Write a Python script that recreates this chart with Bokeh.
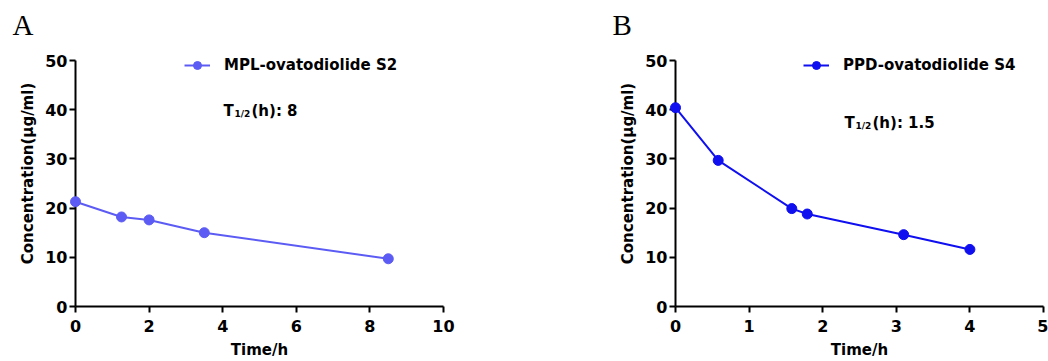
from bokeh.plotting import figure
from bokeh.models import Range1d, FixedTicker, Legend, LegendItem, Label
from bokeh.layouts import row
from bokeh.embed import file_html
from bokeh.resources import INLINE

# ---- data ----
time_a = [0, 1.25, 2.0, 3.5, 8.5]
conc_a = [21.3, 18.2, 17.6, 15.0, 9.7]
time_b = [0, 0.58, 1.58, 1.79, 3.10, 4.0]
conc_b = [40.4, 29.7, 19.9, 18.8, 14.6, 11.6]

series_a = "MPL-ovatodiolide S2"
series_b = "PPD-ovatodiolide S4"
half_a = "(h): 8"
half_b = "(h): 1.5"

xticks_a = [0, 2, 4, 6, 8, 10]
xticks_b = [0, 1, 2, 3, 4, 5]
yticks = [0, 10, 20, 30, 40, 50]

color_a = "#5C5CF4"
color_b = "#0F0FF0"

FONT = "DejaVu Sans"
TOP = 40          # canvas pixel of frame top
AX_TOP = 60       # canvas pixel where y = 50 sits
BOTTOM = 306      # canvas pixel of frame bottom
Y_END = 50 * (BOTTOM - TOP) / (BOTTOM - AX_TOP)


def make_panel(xs, ys, xticks, xmax, color, name, half, letter,
               left, right, leg_x, t_x, t_y):
    p = figure(frame_width=368, frame_height=BOTTOM - TOP,
               min_border_left=left, min_border_right=right,
               min_border_top=TOP, min_border_bottom=55,
               x_range=Range1d(0, xmax), y_range=Range1d(0, Y_END),
               output_backend="svg", toolbar_location=None,
               background_fill_color="white", border_fill_color="white")
    p.outline_line_color = None
    p.grid.visible = False
    p.title.text = letter
    p.title.text_font = "Liberation Serif"
    p.title.text_font_style = "normal"
    p.title.text_font_size = "29px"
    p.title.text_color = "black"
    p.title.align = "left"
    p.title.offset = -63
    p.title.standoff = 0
    p.xaxis.ticker = FixedTicker(ticks=xticks)
    p.yaxis.ticker = FixedTicker(ticks=yticks)
    p.yaxis.bounds = (0, 50)
    for ax in (p.xaxis[0], p.yaxis[0]):
        ax.axis_line_width = 2
        ax.axis_line_color = "black"
        ax.major_tick_line_width = 2
        ax.major_tick_line_color = "black"
        ax.major_tick_out = 6
        ax.major_tick_in = 0
        ax.minor_tick_line_color = None
        ax.major_label_text_font = FONT
        ax.major_label_text_font_style = "bold"
        ax.major_label_text_font_size = "16px"
        ax.major_label_text_color = "black"
        ax.axis_label_text_font = FONT
        ax.axis_label_text_font_style = "bold"
        ax.axis_label_text_font_size = "15px"
        ax.axis_label_text_color = "black"
    p.xaxis.axis_label = "Time/h"
    p.yaxis.axis_label = "Concentration(\u03bcg/ml)"
    p.xaxis.major_label_standoff = 7
    p.yaxis.major_label_standoff = 2
    p.xaxis.axis_label_standoff = 6
    p.yaxis.axis_label_standoff = 5

    ln = p.line(xs, ys, line_color=color, line_width=2)
    sc = p.scatter(xs, ys, size=10, fill_color=color, line_color=color)
    ln.level = "overlay"
    sc.level = "overlay"

    leg = Legend(items=[LegendItem(label=name, renderers=[ln, sc])],
                 location=(leg_x, BOTTOM - 75), padding=0, margin=0,
                 border_line_color=None, background_fill_alpha=0,
                 glyph_width=26, glyph_height=20, label_height=20,
                 label_standoff=14, label_text_font=FONT,
                 label_text_font_style="bold", label_text_font_size="15px",
                 label_text_color="black")
    p.add_layout(leg, "center")

    # T1/2 annotation
    common = dict(x_units="screen", y_units="screen", text_font=FONT,
                  text_font_style="bold", text_color="black",
                  text_baseline="alphabetic")
    p.add_layout(Label(x=t_x, y=t_y, text="T", text_font_size="15px", **common))
    p.add_layout(Label(x=t_x + 11, y=t_y - 3, text="1/2",
                       text_font_size="9px", **common))
    p.add_layout(Label(x=t_x + 28, y=t_y, text=half,
                       text_font_size="15px", **common))
    return p


pa = make_panel(time_a, conc_a, xticks_a, 10, color_a, series_a, half_a, "A",
                75, 97, 109, 148, BOTTOM - 110)
pb = make_panel(time_b, conc_b, xticks_b, 5, color_b, series_b, half_b, "B",
                135, 5, 128, 169, BOTTOM - 122)

layout = row(pa, pb)
open("out.html", "w").write(file_html(layout, INLINE))
